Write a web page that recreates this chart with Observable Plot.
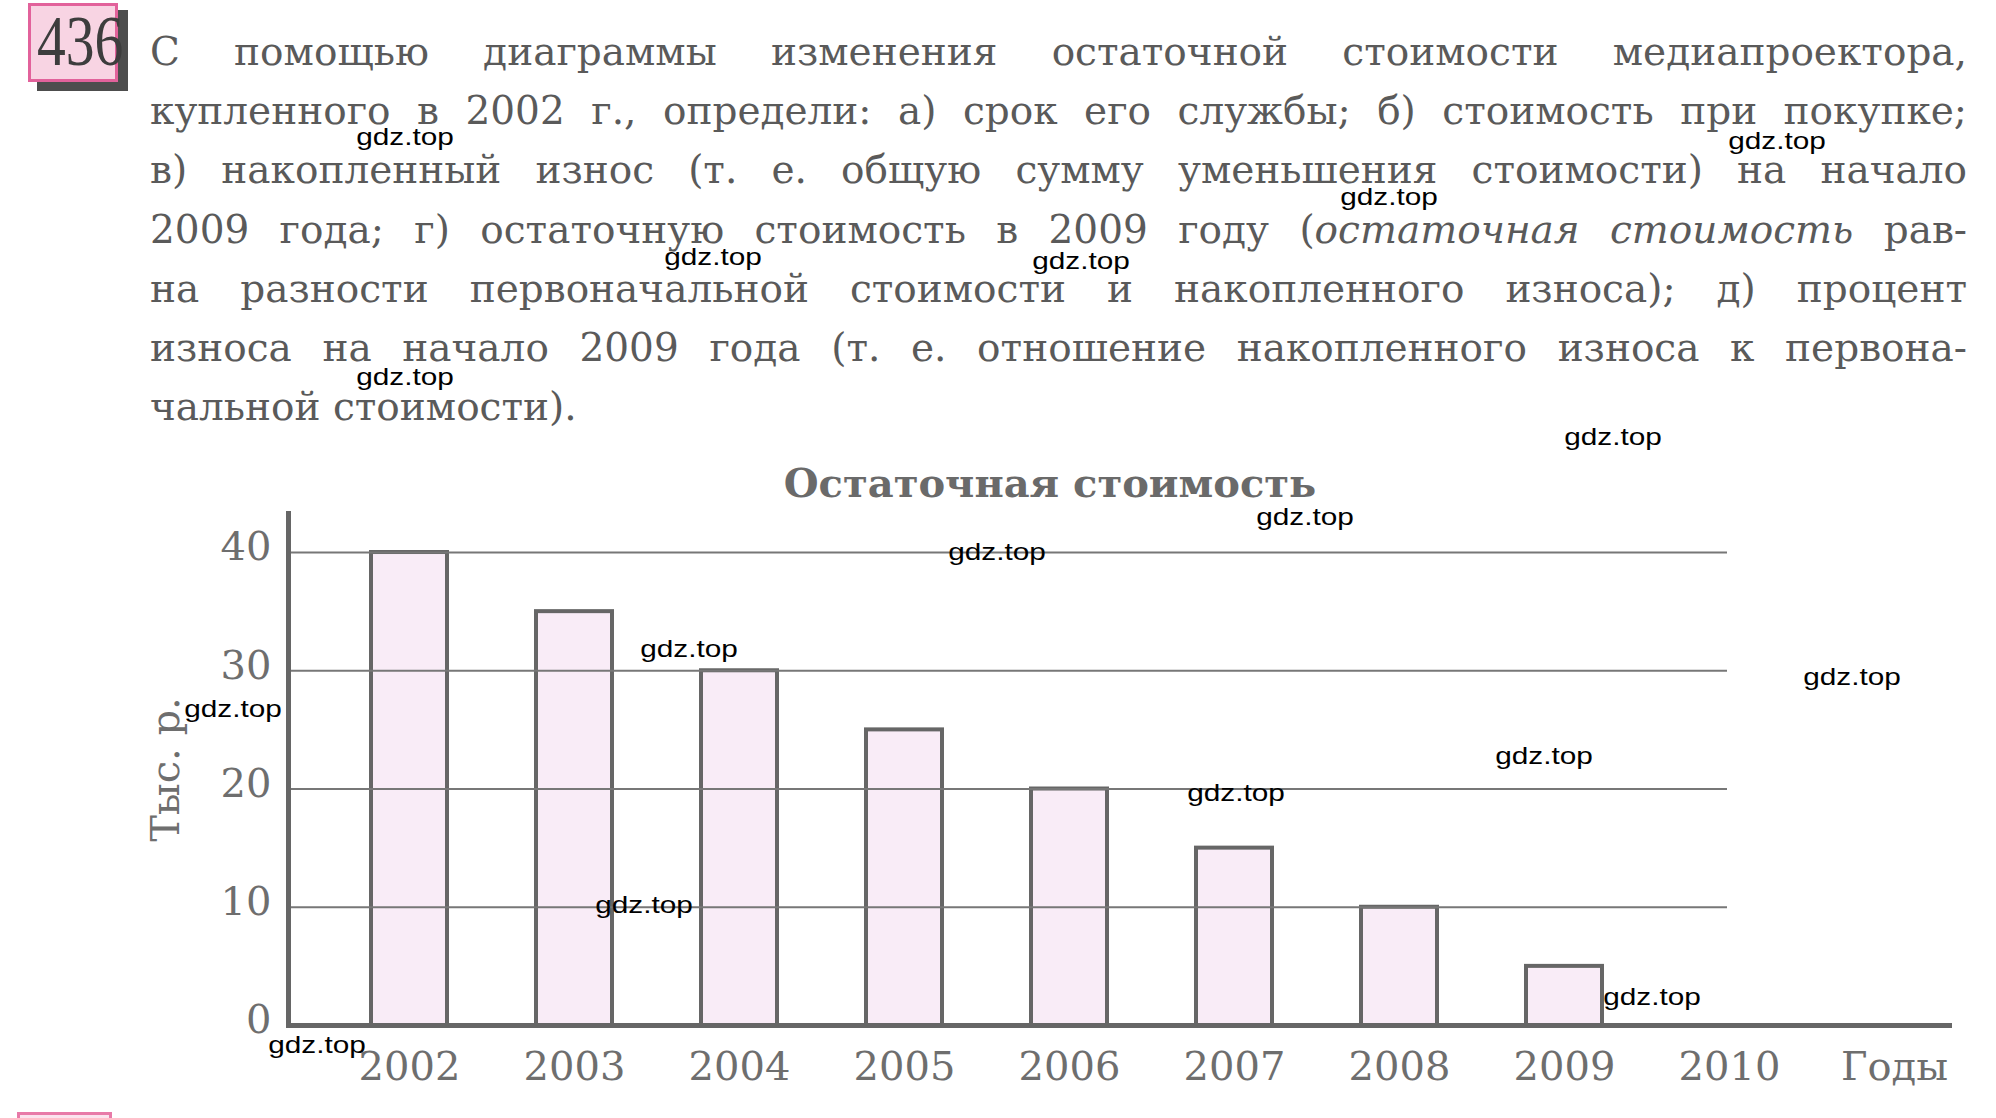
<!DOCTYPE html>
<html><head><meta charset="utf-8">
<script src="https://cdn.jsdelivr.net/npm/d3@7"></script>
<script src="https://cdn.jsdelivr.net/npm/@observablehq/plot@0.6"></script>
<style>
html,body{margin:0;padding:0;background:#fff;}
body{width:1996px;height:1118px;overflow:hidden;position:relative;}
#para{position:absolute;left:150px;top:22px;width:1817px;font-family:'DejaVu Serif',serif;font-size:39px;line-height:59.2px;color:#5a5a5a;}
.ln{white-space:nowrap;height:59.2px;}
#title{position:absolute;left:1050px;top:463px;transform:translateX(-50%);white-space:nowrap;font-family:'DejaVu Serif',serif;font-weight:bold;font-size:40px;line-height:40px;color:#6a6a6a;}
#chart{position:absolute;left:0;top:505px;}
.wm{position:absolute;font-family:'Liberation Sans',Arial,sans-serif;font-size:24px;line-height:24px;color:#000;white-space:nowrap;transform:translate(-50%,-50%) scaleX(1.24);}
#shadow{position:absolute;left:37px;top:10px;width:91px;height:81px;background:#4d4d4d;}
#badge{position:absolute;left:28px;top:3px;width:90px;height:79px;box-sizing:border-box;background:#f8d4e3;border:3px solid #e2629b;}
#num{position:absolute;left:28px;top:5px;width:90px;text-align:center;font-family:'Liberation Serif',serif;font-size:72px;line-height:72px;color:#3d3d3d;transform:scaleX(0.8);}
#next{position:absolute;left:17px;top:1112px;width:95px;height:30px;box-sizing:border-box;background:#fbe3ee;border:3px solid #e87aa8;}
</style></head><body>
<div id="shadow"></div><div id="badge"></div><div id="num">436</div>
<div id="next"></div>
<div id="para">
<div class="ln"><span>С помощью диаграммы изменения остаточной стоимости медиапроектора,</span></div>
<div class="ln"><span>купленного в 2002 г., определи: а) срок его службы; б) стоимость при покупке;</span></div>
<div class="ln"><span>в) накопленный износ (т. е. общую сумму уменьшения стоимости) на начало</span></div>
<div class="ln"><span>2009 года; г) остаточную стоимость в 2009 году (<i>остаточная стоимость</i> рав-</span></div>
<div class="ln"><span>на разности первоначальной стоимости и накопленного износа); д) процент</span></div>
<div class="ln"><span>износа на начало 2009 года (т. е. отношение накопленного износа к первона-</span></div>
<div class="ln last"><span>чальной стоимости).</span></div>
</div>
<div id="title"></div>
<div id="chart"></div>
<script>
// Data
const years = ["2002", "2003", "2004", "2005", "2006", "2007", "2008", "2009", "2010"];
const values = [40, 35, 30, 25, 20, 15, 10, 5];
const yTicks = [0, 10, 20, 30, 40];
const gridValues = [10, 20, 30, 40];
const chartTitle = "Остаточная стоимость";
const yLabel = "Тыс. р.";
const xLabel = "Годы";

// Watermarks (page overlay text)
const wmText = "gdz.top";
const wmX = [405, 1777, 1389, 713, 1081, 405, 1613, 1305, 997, 689, 1852, 233, 1544, 1236, 644, 1652, 317];
const wmY = [137, 141, 197, 257, 261, 377, 437, 517, 552, 649, 677, 709, 756, 793, 905, 997, 1045];

document.getElementById("title").textContent = chartTitle;

// justify paragraph lines
const target = 1817;
document.querySelectorAll(".ln").forEach(ln => {
  if (ln.classList.contains("last")) return;
  const span = ln.firstElementChild;
  const w = span.getBoundingClientRect().width;
  const spaces = (span.textContent.match(/ /g) || []).length;
  if (w <= target) span.style.wordSpacing = ((target - w) / spaces) + "px";
  else { span.style.display = "inline-block"; span.style.transformOrigin = "0 0"; span.style.transform = `scaleX(${target / w})`; }
});

const data = values.map((v, i) => ({year: years[i], value: v}));
// the unit label "Годы" sits in the slot after the last year, on the same line as the years
const xDomain = [...years, xLabel];

const chart = Plot.plot({
  width: 1996,
  height: 613,
  marginTop: 8,
  marginBottom: 93,
  marginLeft: 288,
  marginRight: 44,
  style: {fontFamily: "'DejaVu Serif', serif", fontSize: "40px", color: "#6e6e6e", background: "transparent", overflow: "visible"},
  x: {domain: xDomain, range: [288, 2015], paddingInner: 0.54, paddingOuter: 0.5, align: 0.5},
  y: {domain: [0, 43.3]},
  marks: [
    Plot.barY(data, {x: "year", y: "value", fill: "#f9ecf7", stroke: "#666", strokeWidth: 4}),
    Plot.ruleY(gridValues, {x1: null, x2: () => years[years.length - 1], insetRight: 40, stroke: "#777", strokeWidth: 2}),
    Plot.frame({anchor: "left", stroke: "#666", strokeWidth: 5}),
    Plot.ruleY([0], {stroke: "#666", strokeWidth: 5}),
    Plot.axisX({tickSize: 0, tickPadding: 26, fontSize: 40, label: null}),
    Plot.axisY({ticks: yTicks, tickSize: 0, tickPadding: 17, dy: -5, fontSize: 40, label: yLabel, labelAnchor: "center", labelOffset: 138, labelArrow: "none"})
  ]
});
document.getElementById("chart").appendChild(chart);

wmX.forEach((x, i) => {
  const d = document.createElement("div");
  d.className = "wm";
  d.style.left = x + "px";
  d.style.top = wmY[i] + "px";
  d.textContent = wmText;
  document.body.appendChild(d);
});
</script>
</body></html>
